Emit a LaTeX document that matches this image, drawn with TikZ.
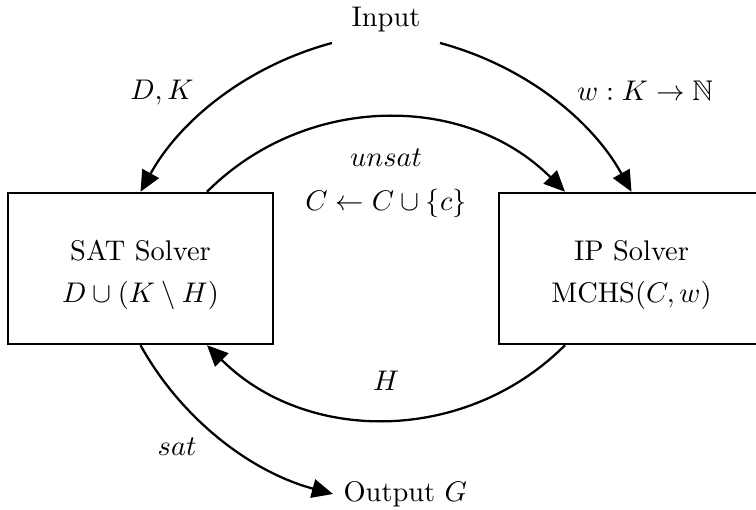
\documentclass[tikz,border=0pt]{standalone}
\usepackage{amssymb}
\usetikzlibrary{arrows.meta,calc}
\begin{document}
\begin{tikzpicture}[x=0.352pt,y=-0.352pt, line width=0.8pt,
  arr/.style={-{Triangle[length=7.4pt,width=6.6pt]}},
  box/.style={draw, minimum width=93.3pt, minimum height=53.2pt, inner sep=0pt},
  lbl/.style={anchor=base, inner sep=0pt}]
\path[use as bounding box, clip] (0,0) rectangle (756,510);
% boxes
\node[box] (sat) at (140.5,268.5) {};
\node[lbl] (satA) at (140.5,260) {SAT Solver};
\node[lbl] (satB) at (140.5,302) {$D\cup(K\setminus H)$};
\node[box] (ip) at (631.5,268.5) {};
\node[lbl] (ipA) at (631.5,260) {IP Solver};
\node[lbl] (ipB) at (631.5,302) {$\mathrm{MCHS}(C,w)$};
% input / output
\node[lbl] (in) at (386,27) {Input};
\node[anchor=west] (out) at (333,494) {Output $G$};
\coordinate (inL) at ($(in.base)+(-54,16)$);
\coordinate (inR) at ($(in.base)+(54,16)$);
% labels
\node[lbl] (dk) at (162,100) {$D,K$};
\node[lbl] (wk) at (645,101) {$w:K\to\mathbb{N}$};
\node[lbl] (uns) at (386,167) {$unsat$};
\node[lbl] (upd) at (386,211) {$C\leftarrow C\cup\{c\}$};
\node[lbl] (hl) at (386,390) {$H$};
\node[lbl] (sl) at (177,455) {$sat$};
% connectors
\draw[arr] (inL) .. controls +(-82,22) and +(41,-74) .. (sat.north);
\draw[arr] (inR) .. controls +(82,22) and +(-41,-74) .. (ip.north);
\draw[arr] ($(sat.north)+(66.5,0)$) .. controls +(99,-99) and +(-99,-99) .. ($(ip.north)+(-66.5,0)$);
\draw[arr] ($(ip.south)+(-66.5,0)$) .. controls +(-99,99) and +(99,99) .. ($(sat.south)+(66.5,0)$);
\draw[arr] (sat.south) .. controls +(41,74) and +(-82,-22) .. (out.west);
\end{tikzpicture}
\end{document}
